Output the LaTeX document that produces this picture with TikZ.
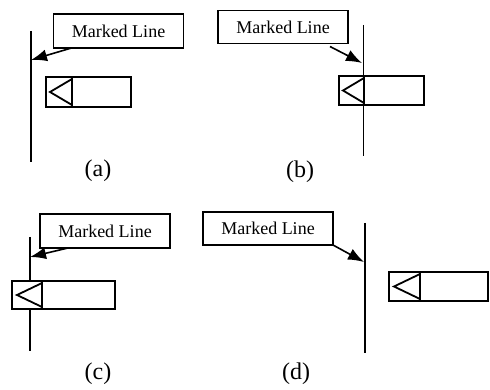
\documentclass[tikz,border=0pt]{standalone}
\usepackage{fontspec}
\setmainfont{Liberation Serif}
\usetikzlibrary{arrows.meta, positioning}

\begin{document}
\begin{tikzpicture}[x=1pt, y=-1pt, line width=1.8pt,
  mark box/.style={draw, rectangle, inner sep=0pt, outer sep=0pt, minimum width=130pt, font=\fontsize{18}{20}\selectfont},
  head/.style={draw, fill=white, rectangle, inner sep=0pt, outer sep=0pt},
  body/.style={draw, fill=white, rectangle, inner sep=0pt, outer sep=0pt},
  tag/.style={inner sep=1pt, font=\fontsize{24}{26}\selectfont},
  pointer/.style={-{Latex[length=16pt, width=12pt]}, line width=1.6pt}]
\useasboundingbox (0,0) rectangle (490,390);
\node[mark box, minimum height=34pt](la) at (118.5,31){Marked Line};
\node[mark box, minimum height=33pt](lb) at (283,27){Marked Line};
\node[mark box, minimum height=34pt](lc) at (105,231){Marked Line};
\node[mark box, minimum height=33pt](ld) at (268,228.5){Marked Line};
\coordinate (ta) at (31,31); \coordinate (ua) at (31,162); \coordinate (pa) at (31,60);
\coordinate (tb) at (363.5,25); \coordinate (ub) at (363.5,156); \coordinate (pb) at (362,63);
\coordinate (tc) at (30,237); \coordinate (uc) at (30,351); \coordinate (pc) at (30,257);
\coordinate (td) at (365,223); \coordinate (ud) at (365,353); \coordinate (pd) at (364,262);
\draw (ta) -- (ua);
\draw (tb) -- (ub);
\draw (tc) -- (uc);
\draw (td) -- (ud);
\node[head, minimum width=26pt, minimum height=30pt](ha) at (59,92){};
\node[body, minimum width=59pt, minimum height=30pt, right=0pt of ha](ba){};
\node[head, minimum width=25pt, minimum height=29pt](hb) at (351.5,90.5){};
\node[body, minimum width=60pt, minimum height=29pt, right=0pt of hb](bb){};
\node[head, minimum width=30pt, minimum height=28pt](hc) at (27,295){};
\node[body, minimum width=73pt, minimum height=28pt, right=0pt of hc](bc){};
\node[head, minimum width=31pt, minimum height=29pt](hd) at (404.5,286.5){};
\node[body, minimum width=68pt, minimum height=29pt, right=0pt of hd](bd){};
\draw ([yshift=-2pt]ha.north east) -- ([xshift=4pt]ha.west) -- ([yshift=2pt]ha.south east);
\draw ([yshift=-2pt]hb.north east) -- ([xshift=4pt]hb.west) -- ([yshift=2pt]hb.south east);
\draw ([yshift=-2pt]hc.north east) -- ([xshift=5pt]hc.west) -- ([yshift=2pt]hc.south east);
\draw ([yshift=-2pt]hd.north east) -- ([xshift=5pt]hd.west) -- ([yshift=2pt]hd.south east);
\draw[pointer] ([xshift=18pt]la.south west) -- (pa);
\draw[pointer] ([xshift=-18pt,yshift=-3pt]lb.south east) -- (pb);
\draw[pointer] ([xshift=28pt]lc.south west) -- (pc);
\draw[pointer] (ld.south east) -- (pd);
\node[tag](ca) at (98,171){(a)};
\node[tag](cb) at (300,172){(b)};
\node[tag](cc) at (98,374){(c)};
\node[tag](cd) at (296,374){(d)};
\end{tikzpicture}
\end{document}
